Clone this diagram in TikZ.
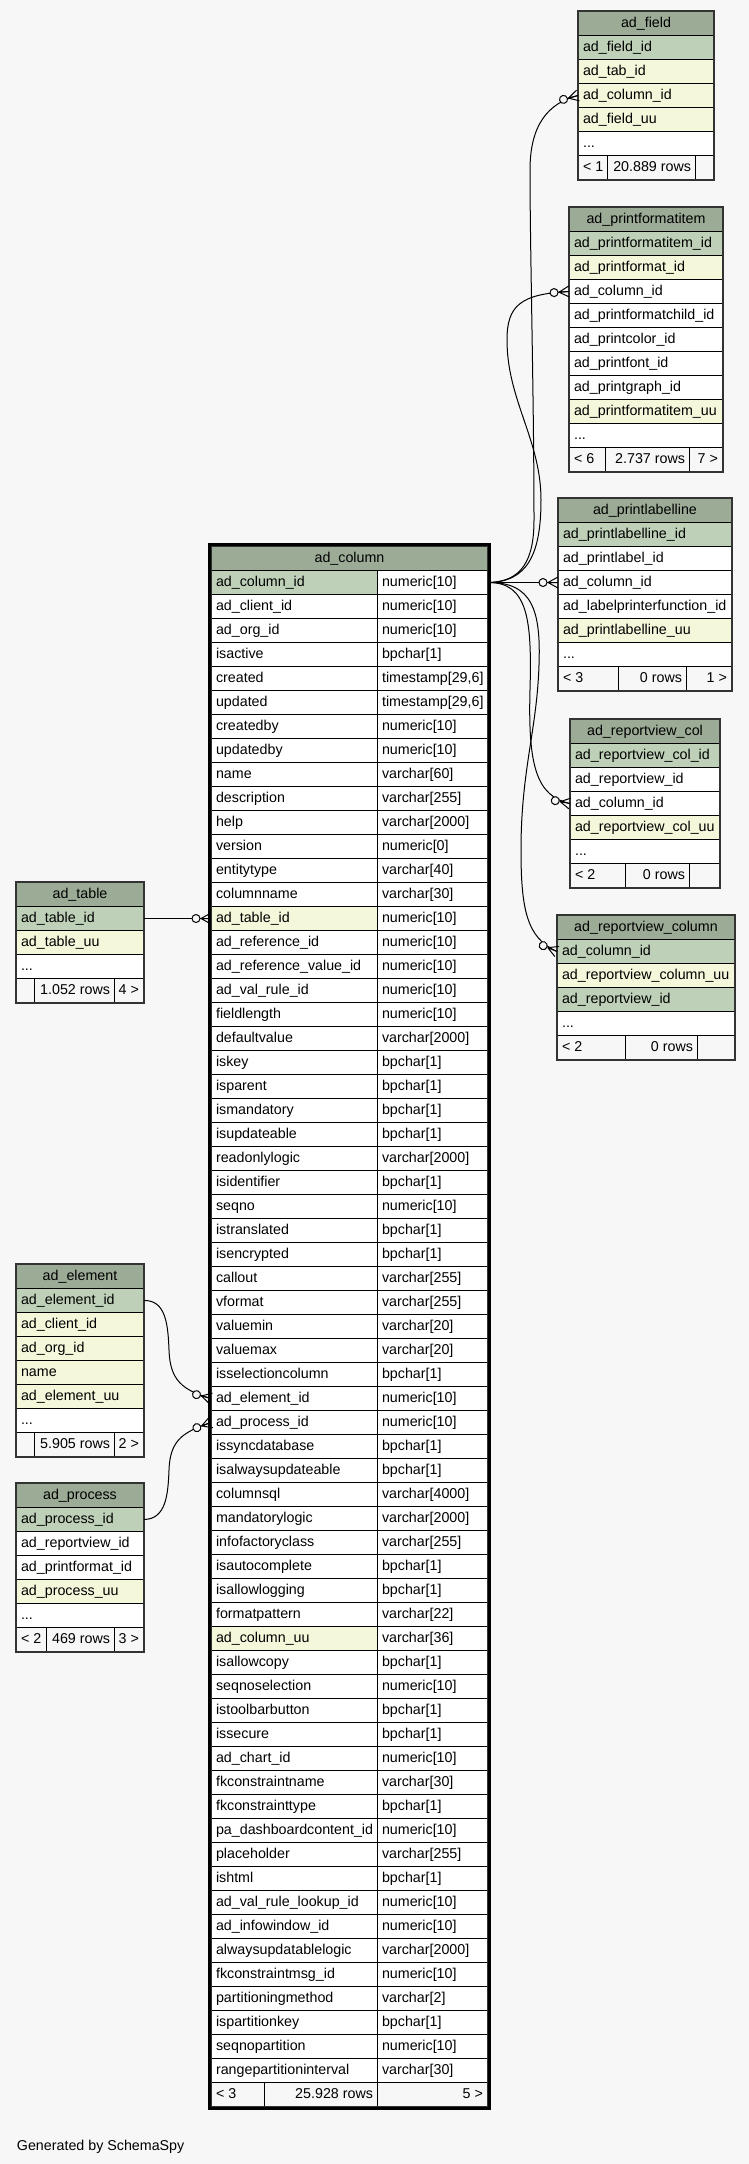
\documentclass[tikz,border=0pt]{standalone}
\usepackage{fontspec}
\setmainfont{Liberation Sans}
\definecolor{pagebg}{HTML}{F7F7F7}
\definecolor{headbg}{HTML}{9BAB96}
\definecolor{pkbg}{HTML}{BED1B8}
\definecolor{fkbg}{HTML}{F4F7DA}
\newcommand{\cellfont}{\fontsize{10.7}{12.8}\selectfont}
\newcommand{\threedots}{...}
\tikzset{
  cell/.style={draw=black, line width=0.75pt, anchor=north west, inner xsep=3.4pt,
    inner ysep=0pt, minimum height=18pt, text height=8.4pt, text depth=1.8pt, font=\cellfont},
  tblframe/.style={draw=black!80, line width=1.1pt},
  bigframe/.style={draw=black, line width=2.4pt},
  rel/.style={draw=black, line width=0.75pt},
  crowodot/.pic={
    \draw[rel] (-10,0) -- (0,-5.5) (-10,0) -- (0,0) (-10,0) -- (0,5.5);
    \draw[rel, fill=pagebg] (-15,0) circle[radius=4];
  }
}
%% one table: name, x, top, width, title, rows text/colour
\newcommand{\dbtable}[6]{%
  \pgfmathsetmacro{\tw}{#4*0.75-6.8}
  \node[cell, fill=headbg] (#1-0) at (#2,#3) {\makebox[\tw pt][c]{#5}};
  \foreach \txt/\bg [count=\i] in {#6}
    \node[cell, fill=\bg] (#1-\i) at (#2,#3+24*\i) {\makebox[\tw pt][l]{\txt}};
}
%% footer row: name, top, cells x/width/text/align
\newcommand{\dbfoot}[3]{%
  \foreach \x/\w/\txt/\al [count=\j] in {#3} {
    \pgfmathsetmacro{\tw}{\w*0.75-6.8}
    \node[cell, fill=pagebg] (#1-f\j) at (\x,#2) {\makebox[\tw pt][\al]{\txt}};
  }
  \draw[tblframe] (#1-0.north west) rectangle (#1-f3.south east);
}
\begin{document}
\begin{tikzpicture}[x=0.75pt,y=-0.75pt]
\useasboundingbox[fill=pagebg] (0,0) rectangle (749,2164);

%% tables on the right
\dbtable{fld}{578}{11}{135}{ad\_field}{ad\_field\_id/pkbg, ad\_tab\_id/fkbg,
  ad\_column\_id/fkbg, ad\_field\_uu/fkbg, \threedots/white}
\dbfoot{fld}{155}{578/29/{< 1}/l, 607/88/{20.889 rows}/r, 695/18/{}/l}

\dbtable{pfi}{569}{207}{153}{ad\_printformatitem}{ad\_printformatitem\_id/pkbg,
  ad\_printformat\_id/fkbg, ad\_column\_id/white, ad\_printformatchild\_id/white,
  ad\_printcolor\_id/white, ad\_printfont\_id/white, ad\_printgraph\_id/white,
  ad\_printformatitem\_uu/fkbg, \threedots/white}
\dbfoot{pfi}{447}{569/36/{< 6}/l, 605/84/{2.737 rows}/r, 689/33/{7 >}/r}

\dbtable{pll}{558}{498}{173}{ad\_printlabelline}{ad\_printlabelline\_id/pkbg,
  ad\_printlabel\_id/white, ad\_column\_id/white, ad\_labelprinterfunction\_id/white,
  ad\_printlabelline\_uu/fkbg, \threedots/white}
\dbfoot{pll}{666}{558/60/{< 3}/l, 618/68/{0 rows}/r, 686/45/{1 >}/r}

\dbtable{rvc}{570}{719}{149}{ad\_reportview\_col}{ad\_reportview\_col\_id/pkbg,
  ad\_reportview\_id/white, ad\_column\_id/white, ad\_reportview\_col\_uu/fkbg,
  \threedots/white}
\dbfoot{rvc}{863}{570/55/{< 2}/l, 625/64/{0 rows}/r, 689/30/{}/l}

\dbtable{rvn}{557}{915}{177}{ad\_reportview\_column}{ad\_column\_id/pkbg,
  ad\_reportview\_column\_uu/fkbg, ad\_reportview\_id/pkbg, \threedots/white}
\dbfoot{rvn}{1035}{557/68/{< 2}/l, 625/72/{0 rows}/r, 697/37/{}/l}

%% tables on the left
\dbtable{tbl}{16}{882}{127}{ad\_table}{ad\_table\_id/pkbg, ad\_table\_uu/fkbg,
  \threedots/white}
\dbfoot{tbl}{978}{16/18/{}/l, 34/80/{1.052 rows}/r, 114/29/{4 >}/r}

\dbtable{elm}{16}{1264}{127}{ad\_element}{ad\_element\_id/pkbg, ad\_client\_id/fkbg,
  ad\_org\_id/fkbg, name/fkbg, ad\_element\_uu/fkbg, \threedots/white}
\dbfoot{elm}{1432}{16/18/{}/l, 34/80/{5.905 rows}/r, 114/29/{2 >}/r}

\dbtable{prc}{16}{1483}{127}{ad\_process}{ad\_process\_id/pkbg,
  ad\_reportview\_id/white, ad\_printformat\_id/white, ad\_process\_uu/fkbg,
  \threedots/white}
\dbfoot{prc}{1627}{16/30/{< 2}/l, 46/68/{469 rows}/r, 114/29/{3 >}/r}

%% the main table
\pgfmathsetmacro{\nw}{166*0.75-6.8}
\pgfmathsetmacro{\yw}{110*0.75-6.8}
\pgfmathsetmacro{\hw}{276*0.75-6.8}
\node[cell, fill=headbg] (col-0) at (211,546) {\makebox[\hw pt][c]{ad\_column}};
\foreach \txt/\typ/\bg [count=\i] in {
  ad\_column\_id/numeric[10]/pkbg, ad\_client\_id/numeric[10]/white,
  ad\_org\_id/numeric[10]/white, isactive/bpchar[1]/white,
  created/{timestamp[29,6]}/white, updated/{timestamp[29,6]}/white,
  createdby/numeric[10]/white, updatedby/numeric[10]/white,
  name/varchar[60]/white, description/varchar[255]/white,
  help/varchar[2000]/white, version/numeric[0]/white,
  entitytype/varchar[40]/white, columnname/varchar[30]/white,
  ad\_table\_id/numeric[10]/fkbg, ad\_reference\_id/numeric[10]/white,
  ad\_reference\_value\_id/numeric[10]/white, ad\_val\_rule\_id/numeric[10]/white,
  fieldlength/numeric[10]/white, defaultvalue/varchar[2000]/white,
  iskey/bpchar[1]/white, isparent/bpchar[1]/white,
  ismandatory/bpchar[1]/white, isupdateable/bpchar[1]/white,
  readonlylogic/varchar[2000]/white, isidentifier/bpchar[1]/white,
  seqno/numeric[10]/white, istranslated/bpchar[1]/white,
  isencrypted/bpchar[1]/white, callout/varchar[255]/white,
  vformat/varchar[255]/white, valuemin/varchar[20]/white,
  valuemax/varchar[20]/white, isselectioncolumn/bpchar[1]/white,
  ad\_element\_id/numeric[10]/white, ad\_process\_id/numeric[10]/white,
  issyncdatabase/bpchar[1]/white, isalwaysupdateable/bpchar[1]/white,
  columnsql/varchar[4000]/white, mandatorylogic/varchar[2000]/white,
  infofactoryclass/varchar[255]/white, isautocomplete/bpchar[1]/white,
  isallowlogging/bpchar[1]/white, formatpattern/varchar[22]/white,
  ad\_column\_uu/varchar[36]/fkbg, isallowcopy/bpchar[1]/white,
  seqnoselection/numeric[10]/white, istoolbarbutton/bpchar[1]/white,
  issecure/bpchar[1]/white, ad\_chart\_id/numeric[10]/white,
  fkconstraintname/varchar[30]/white, fkconstrainttype/bpchar[1]/white,
  pa\_dashboardcontent\_id/numeric[10]/white, placeholder/varchar[255]/white,
  ishtml/bpchar[1]/white, ad\_val\_rule\_lookup\_id/numeric[10]/white,
  ad\_infowindow\_id/numeric[10]/white, alwaysupdatablelogic/varchar[2000]/white,
  fkconstraintmsg\_id/numeric[10]/white, partitioningmethod/varchar[2]/white,
  ispartitionkey/bpchar[1]/white, seqnopartition/numeric[10]/white,
  rangepartitioninterval/varchar[30]/white}
{
  \node[cell, fill=\bg] (col-\i) at (211,546+24*\i) {\makebox[\nw pt][l]{\txt}};
  \node[cell, fill=white] (col-\i-t) at (377,546+24*\i) {\makebox[\yw pt][l]{\typ}};
}
\dbfoot{col}{2082}{211/53/{< 3}/l, 264/113/{25.928 rows}/r, 377/110/{5 >}/r}
\draw[bigframe] ([shift={(-1.6,-1.6)}]col-0.north west) rectangle ([shift={(1.6,1.6)}]col-f3.south east);

%% relations
\draw[rel] (col-1-t.east) .. controls (522,582) and (534,560) .. (534,520)
  .. controls (534,400) and (530,250) .. (530,170) .. controls (530,125) and (548,103) .. (fld-3.west);
\draw[rel] (col-1-t.east) .. controls (527,582) and (541,555) .. (541,500)
  .. controls (541,440) and (507,400) .. (507,340) .. controls (507,306) and (520,294) .. (pfi-3.west);
\draw[rel] (col-1-t.east) -- (pll-3.west);
\draw[rel] (col-1-t.east) .. controls (528,582) and (532,620) .. (530,690)
  .. controls (528,765) and (536,796) .. (rvc-3.west);
\draw[rel] (col-1-t.east) .. controls (532,582) and (541,610) .. (539,665)
  .. controls (537,730) and (521,770) .. (521,850) .. controls (521,910) and (527,938) .. (rvn-1.west);
\draw[rel] (tbl-1.east) -- (col-15.west);
\draw[rel] (elm-1.east) .. controls (166,1300) and (168,1325) .. (169,1350)
  .. controls (170,1380) and (182,1390) .. (col-35.west);
\draw[rel] (prc-1.east) .. controls (166,1519) and (168,1495) .. (169,1470)
  .. controls (170,1440) and (183,1432) .. (col-36.west);

%% crow's feet
\pic[rotate=15] at (fld-3.west) {crowodot};
\pic[rotate=4] at (pfi-3.west) {crowodot};
\pic at (pll-3.west) {crowodot};
\pic[rotate=-11] at (rvc-3.west) {crowodot};
\pic[rotate=-23] at (rvn-1.west) {crowodot};
\pic at (col-15.west) {crowodot};
\pic[rotate=-15] at (col-35.west) {crowodot};
\pic[rotate=20] at (col-36.west) {crowodot};

\node[anchor=base west, inner sep=0pt, font=\cellfont] (gen) at (16.7,2150) {Generated by SchemaSpy};
\end{tikzpicture}
\end{document}
